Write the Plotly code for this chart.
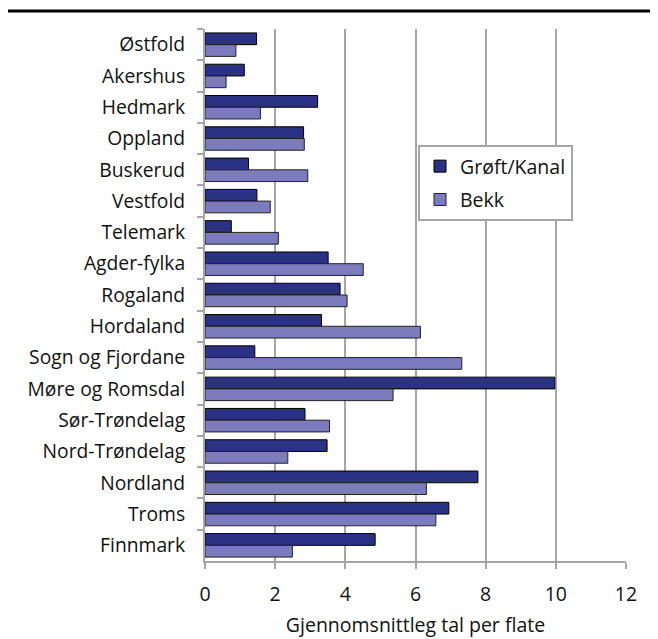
import plotly.graph_objects as go

regions = ["Østfold", "Akershus", "Hedmark", "Oppland", "Buskerud", "Vestfold", "Telemark",
           "Agder-fylka", "Rogaland", "Hordaland", "Sogn og Fjordane", "Møre og Romsdal",
           "Sør-Trøndelag", "Nord-Trøndelag", "Nordland", "Troms", "Finnmark"]
groft_kanal = [1.47, 1.12, 3.21, 2.81, 1.24, 1.48, 0.75, 3.51, 3.85, 3.32, 1.42, 9.97,
               2.85, 3.48, 7.78, 6.95, 4.85]
bekk = [0.88, 0.60, 1.58, 2.83, 2.93, 1.86, 2.09, 4.51, 4.05, 6.14, 7.32, 5.36,
        3.55, 2.36, 6.31, 6.58, 2.49]
x_ticks = [0, 2, 4, 6, 8, 10, 12]

FONT = "Open Sans"
GRID = "#A6A6A6"

fig = go.Figure()
fig.add_trace(go.Bar(y=regions, x=groft_kanal, orientation="h", name="Grøft/Kanal",
                     legendgroup="a",
                     marker=dict(color="#2B3183", line=dict(color="#000000", width=1))))
fig.add_trace(go.Bar(y=regions, x=bekk, orientation="h", name="Bekk",
                     legendgroup="b",
                     marker=dict(color="#7B7BBD", line=dict(color="#222222", width=1))))

fig.update_layout(
    width=658, height=639,
    margin=dict(l=197, r=40, t=21, b=86, autoexpand=False),
    paper_bgcolor="white", plot_bgcolor="white",
    barmode="group", bargap=0.25, bargroupgap=0,
    font=dict(family=FONT, size=19, color="#111111"),
    legend=dict(x=0.506, y=0.782, xanchor="left", yanchor="top",
                bordercolor=GRID, borderwidth=2, bgcolor="white",
                font=dict(size=19.5), traceorder="grouped", itemwidth=30,
                tracegroupgap=5),
    showlegend=True,
)
fig.update_xaxes(range=[0, 12], tickvals=x_ticks, showgrid=True, gridcolor=GRID, gridwidth=2,
                 showline=True, linecolor=GRID, linewidth=2, ticks="outside", ticklen=6,
                 tickcolor=GRID, tickwidth=2, zeroline=False, tickfont=dict(size=19.5),
                 automargin=False, ticklabelstandoff=9,
                 title=dict(text="Gjennomsnittleg tal per flate", font=dict(size=19.5), standoff=12))
fig.update_yaxes(autorange="reversed", showgrid=False, showline=True, linecolor=GRID, linewidth=2,
                 ticks="outside", ticklen=6, tickcolor=GRID, tickwidth=2, tickson="boundaries",
                 ticklabelstandoff=14, tickfont=dict(size=19.3), automargin=False)

fig.add_shape(type="line", xref="paper", yref="paper", x0=-0.468, x1=1.062, y0=1.034, y1=1.034,
              line=dict(color="black", width=3))

fig.write_html("out.html")
